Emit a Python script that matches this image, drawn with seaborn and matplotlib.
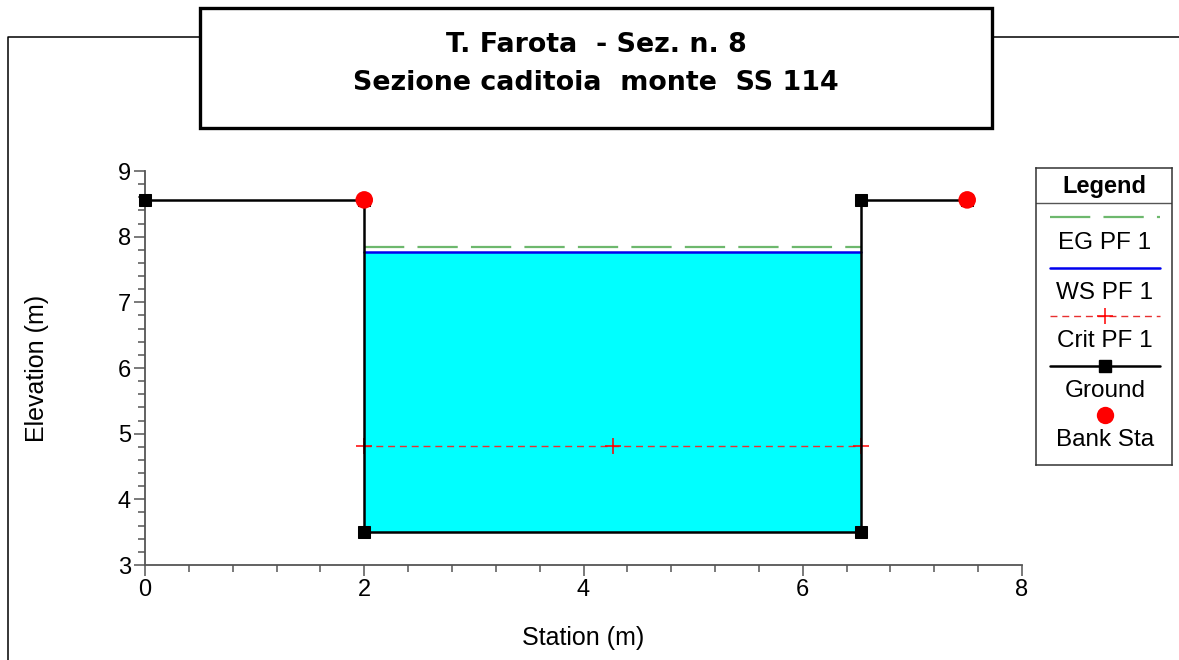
import numpy as np
import pandas as pd
import matplotlib
matplotlib.use("Agg")
import matplotlib.pyplot as plt
from matplotlib.patches import Rectangle
from matplotlib.lines import Line2D
from matplotlib.ticker import MultipleLocator
import seaborn as sns

# Cross-section geometry (station, elevation) in metres
ground_sta = [0.0, 2.0, 2.0, 6.53, 6.53, 7.5]
ground_elev = [8.56, 8.56, 3.5, 3.5, 8.56, 8.56]

bank_sta = [2.0, 7.5]
bank_elev = [8.56, 8.56]

# Profile PF 1 results
eg_sta = [2.0, 6.53]
eg_elev = [7.84, 7.84]
ws_sta = [2.0, 6.53]
ws_elev = [7.76, 7.76]
crit_sta = [2.0, 4.265, 6.53]
crit_elev = [4.81, 4.81, 4.81]

legend_labels = ["EG PF 1", "WS PF 1", "Crit PF 1", "Ground", "Bank Sta"]
title_lines = ["T. Farota  - Sez. n. 8", "Sezione caditoia  monte  SS 114"]

sns.set_theme(style="ticks")
plt.rcParams["font.family"] = ["Liberation Sans", "DejaVu Sans"]
plt.rcParams["lines.scale_dashes"] = False
plt.rcParams["text.color"] = "black"
plt.rcParams["axes.labelcolor"] = "black"

W, H = 1179, 660
fig = plt.figure(figsize=(W / 100, H / 100), dpi=100)
fig.patch.set_facecolor("white")


def fx(px):
    return px / W


def fy(py):
    return 1 - py / H


ax = fig.add_axes([fx(145), fy(565), fx(1022) - fx(145), fy(171) - fy(565)])
ax.set_facecolor("white")

ground = pd.DataFrame({"Station": ground_sta, "Elevation": ground_elev})
gx = np.array(ground_sta)
gy = np.array(ground_elev)
ws = ws_elev[0]

# Water area below the water surface
ax.fill_between(gx, gy, ws, where=gy < ws, color="#00ffff", linewidth=0, zorder=1)

line_kw = dict(ax=ax, estimator=None, errorbar=None, sort=False)

eg_line = sns.lineplot(x=eg_sta, y=eg_elev, color="#6db86d", linewidth=1.6,
                       zorder=3, **line_kw).lines[-1]
eg_line.set_dashes((29, 9.5))
sns.lineplot(x=ws_sta, y=ws_elev, color="#0000ee", linewidth=1.8, zorder=4, **line_kw)
crit_line = sns.lineplot(x=crit_sta, y=crit_elev, color="#e83030", linewidth=1.0,
                         marker="+", markersize=11, markeredgewidth=1.1,
                         markeredgecolor="#ff0000", zorder=4, **line_kw).lines[-1]
crit_line.set_dashes((5, 3.5))
ground_line = sns.lineplot(data=ground, x="Station", y="Elevation", color="black",
                           linewidth=1.8, marker="s", markersize=8,
                           markeredgecolor="black", zorder=5, **line_kw).lines[-1]
ground_line.set_clip_on(False)
sns.scatterplot(x=bank_sta, y=bank_elev, ax=ax, color="#ff0000", s=160,
                edgecolor="none", zorder=7)

ax.set_xlim(0, 8)
ax.set_ylim(3, 9)
ax.xaxis.set_major_locator(MultipleLocator(2))
ax.xaxis.set_minor_locator(MultipleLocator(0.4))
ax.yaxis.set_major_locator(MultipleLocator(1))
ax.yaxis.set_minor_locator(MultipleLocator(0.2))
ax.tick_params(which="major", direction="out", length=8, width=1.1,
               color="#555555", labelsize=17, labelcolor="black", pad=2)
ax.tick_params(which="minor", direction="out", length=5, width=1.1, color="#555555")
for side in ("top", "right"):
    ax.spines[side].set_visible(False)
for side in ("left", "bottom"):
    ax.spines[side].set_color("#555555")
    ax.spines[side].set_linewidth(1.3)
ax.set_xlabel("Station (m)", fontsize=18, color="black")
ax.set_ylabel("Elevation (m)", fontsize=18, color="black")
ax.xaxis.set_label_coords(0.5, -0.155)
ax.yaxis.set_label_coords(-0.11, 0.5)

# Outer frame around the plot area
frame_kw = dict(color="black", linewidth=1.1, transform=fig.transFigure)
fig.add_artist(Line2D([fx(8), fx(8), fx(200)], [fy(H + 5), fy(37), fy(37)], **frame_kw))
fig.add_artist(Line2D([fx(992), fx(W + 5)], [fy(37), fy(37)], **frame_kw))

# Title box
fig.add_artist(Rectangle((fx(200), fy(128)), fx(992) - fx(200), fy(8) - fy(128),
                         transform=fig.transFigure, facecolor="white",
                         edgecolor="black", linewidth=2.4))
for yy, line in zip([45, 83], title_lines):
    fig.text(fx(596), fy(yy), line, ha="center", va="center", color="black",
             fontsize=19.4, fontweight="bold", family=["DejaVu Sans"])

# Legend panel
lx0, lx1, ly0, ly1 = 1036, 1172, 168, 465
lax = fig.add_axes([fx(lx0), fy(ly1), fx(lx1) - fx(lx0), fy(ly0) - fy(ly1)])
lax.set_xlim(lx0, lx1)
lax.set_ylim(ly1, ly0)
lax.set_xticks([])
lax.set_yticks([])
for s in lax.spines.values():
    s.set_color("#333333")
    s.set_linewidth(1.1)
lax.text((lx0 + lx1) / 2, 186, "Legend", ha="center", va="center",
         fontsize=17, fontweight="bold", color="black")
lax.axhline(203, color="#555555", linewidth=1.0)
sx = [1050, 1160]
mid = (sx[0] + sx[1]) / 2
l_eg, = lax.plot(sx, [217, 217], color="#6db86d", linewidth=1.6)
l_eg.set_dashes((29, 9.5))
lax.plot(sx, [268, 268], color="#0000ee", linewidth=1.8)
l_cr, = lax.plot(sx, [316, 316], color="#e83030", linewidth=1.0)
l_cr.set_dashes((5, 3.5))
lax.plot([mid], [316], marker="+", color="#ff0000", markersize=11, markeredgewidth=1.1)
lax.plot(sx, [366, 366], color="black", linewidth=1.8)
lax.plot([mid], [366], marker="s", color="black", markersize=8)
lax.plot([mid], [415], marker="o", color="#ff0000", markersize=12.5, markeredgewidth=0)
for yy, lab in zip([243, 293, 341, 391, 440], legend_labels):
    lax.text(mid, yy, lab, ha="center", va="center", fontsize=17.5, color="black")

fig.savefig("out.png", dpi=100, facecolor="white")
